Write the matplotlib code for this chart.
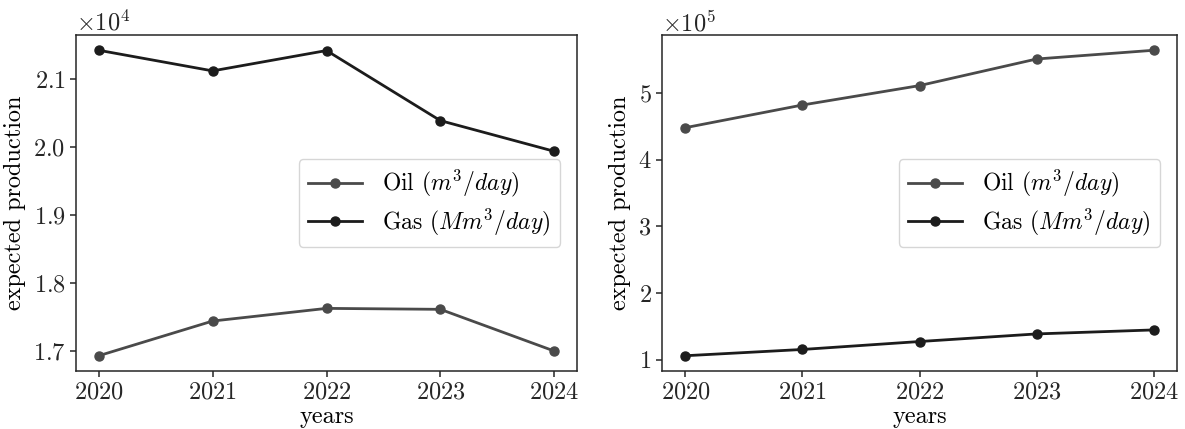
import matplotlib
matplotlib.use("Agg")
import matplotlib.pyplot as plt

plt.rcParams.update({
    "font.family": "serif",
    "font.serif": ["cmr10"],
    "mathtext.fontset": "cm",
    "axes.formatter.use_mathtext": True,
    "axes.unicode_minus": False,
    "font.size": 17,
    "axes.edgecolor": "#262626",
    "axes.linewidth": 1.1,
    "xtick.color": "#262626",
    "ytick.color": "#262626",
    "xtick.labelsize": 17.5,
    "ytick.labelsize": 17.5,
    "xtick.major.size": 4,
    "ytick.major.size": 4,
    "xtick.major.width": 1.1,
    "ytick.major.width": 1.1,
})

years = [2020, 2021, 2022, 2023, 2024]

# left panel
oil_left = [16936, 17446, 17632, 17618, 17005]
gas_left = [21426, 21123, 21422, 20392, 19941]

# right panel
oil_right = [448000, 482000, 511100, 551000, 564100]
gas_right = [105900, 115300, 127200, 138600, 144600]

oil_label = r"Oil ($m^3/day$)"
gas_label = r"Gas ($Mm^3/day$)"
oil_color = "#4a4a4a"
gas_color = "#1c1c1c"

W, H = 1185, 429
fig = plt.figure(figsize=(W / 100, H / 100), dpi=100)
ax1 = fig.add_axes([76 / W, (H - 371) / H, 501 / W, 336 / H])
ax2 = fig.add_axes([662 / W, (H - 371) / H, 515 / W, 336 / H])

for ax, oil, gas in ((ax1, oil_left, gas_left), (ax2, oil_right, gas_right)):
    ax.plot(years, oil, color=oil_color, marker="o", markersize=6.5, lw=2, label=oil_label)
    ax.plot(years, gas, color=gas_color, marker="o", markersize=6.5, lw=2, label=gas_label)
    ax.set_xticks(years)
    ax.set_xlabel("years", fontsize=17.5)
    ax.set_ylabel("expected production", fontsize=17.5)
    ax.xaxis.set_label_coords(0.5, -0.105)
    ax.ticklabel_format(axis="y", style="sci", scilimits=(0, 0), useMathText=True)
    ax.yaxis.get_offset_text().set_fontsize(17.5)
    ax.legend(loc="center right", fontsize=17, handlelength=2.3, handletextpad=0.85,
              borderpad=0.4, labelspacing=0.3, borderaxespad=0.7,
              framealpha=0.8, edgecolor="#cccccc")

ax1.yaxis.set_label_coords(-0.100, 0.5)
ax2.yaxis.set_label_coords(-0.060, 0.5)

ax1.set_yticks([17000, 18000, 19000, 20000, 21000])
ax2.set_yticks([100000, 200000, 300000, 400000, 500000])

fig.savefig("out.png", dpi=100)
